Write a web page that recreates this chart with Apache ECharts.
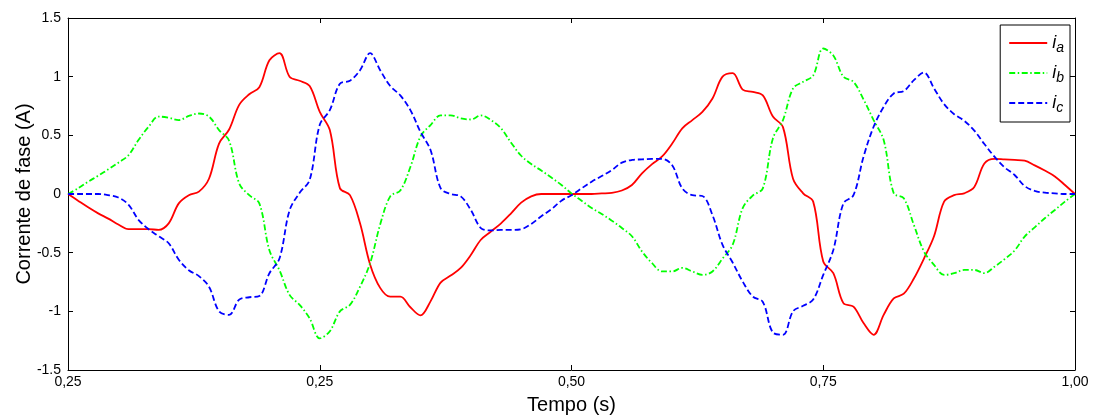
<!DOCTYPE html>
<html>
<head>
<meta charset="utf-8">
<script src="https://cdn.jsdelivr.net/npm/echarts@6/dist/echarts.min.js"></script>
<style>
html,body{margin:0;padding:0;background:#fff;}
#chart{width:1093px;height:415px;}
</style>
</head>
<body>
<div id="chart"></div>
<script>
// time sampling step (s)
const tStep = 0.01;
const xTickLabels = ['0,25', '0,25', '0,50', '0,75', '1,00'];
const yTickLabels = ['-1.5', '-1', '-0.5', '0', '0.5', '1', '1.5'];
const seriesNames = ['ia', 'ib', 'ic'];
const legendSub = {ia: 'a', ib: 'b', ic: 'c'};

// i_a (red, solid)
const ia = [0, -0.057, -0.113, -0.165, -0.21, -0.26, -0.30, -0.30, -0.30, -0.305,
  -0.25, -0.08, -0.01, 0.02, 0.13, 0.43, 0.55, 0.76, 0.85, 0.91,
  1.14, 1.20, 1.00, 0.965, 0.92, 0.70, 0.545, 0.05, -0.01, -0.25,
  -0.60, -0.80, -0.875, -0.875, -0.965, -1.035, -0.915, -0.755, -0.695, -0.63,
  -0.52, -0.39, -0.32, -0.25, -0.165, -0.074, -0.02, 0, 0, 0,
  0, 0, 0, 0.005, 0.01, 0.03, 0.077, 0.176, 0.255, 0.32,
  0.43, 0.56, 0.63, 0.70, 0.814, 1.0, 1.03, 0.89, 0.87, 0.84,
  0.66, 0.57, 0.13, 0.006, -0.065, -0.575, -0.675, -0.93, -0.96, -1.10,
  -1.20, -1.03, -0.89, -0.85, -0.72, -0.55, -0.36, -0.065, -0.01, 0.006,
  0.06, 0.26, 0.30, 0.295, 0.29, 0.284, 0.244, 0.2, 0.15, 0.077, 0];

// i_b (green, dash-dot)
const ib = [0, 0.048, 0.105, 0.156, 0.21, 0.267, 0.33, 0.46, 0.573, 0.66,
  0.65, 0.63, 0.665, 0.686, 0.66, 0.545, 0.454, 0.09, -0.01, -0.08,
  -0.48, -0.65, -0.86, -0.945, -1.06, -1.23, -1.17, -1.0, -0.945, -0.79,
  -0.59, -0.26, -0.02, 0.03, 0.23, 0.49, 0.587, 0.67, 0.67, 0.645,
  0.635, 0.67, 0.63, 0.56, 0.437, 0.326, 0.255, 0.2, 0.14, 0.077,
  0.005, -0.057, -0.12, -0.17, -0.227, -0.29, -0.36, -0.49, -0.59, -0.66,
  -0.66, -0.63, -0.66, -0.69, -0.66, -0.55, -0.434, -0.12, -0.014, 0.048,
  0.474, 0.63, 0.90, 0.956, 1.01, 1.24, 1.18, 1.0, 0.956, 0.806,
  0.63, 0.46, 0.006, -0.037, -0.264, -0.49, -0.604, -0.69, -0.675, -0.647,
  -0.647, -0.675, -0.62, -0.556, -0.482, -0.363, -0.284, -0.207, -0.136, -0.065, 0];

// i_c (blue, dashed)
const ic = [0, 0, 0, 0, -0.01, -0.03, -0.09, -0.22, -0.30, -0.36,
  -0.42, -0.56, -0.65, -0.70, -0.79, -1.0, -1.03, -0.90, -0.88, -0.87,
  -0.675, -0.55, -0.14, 0.01, 0.12, 0.59, 0.715, 0.94, 0.965, 1.055,
  1.20, 1.055, 0.92, 0.84, 0.715, 0.53, 0.375, 0.05, 0, -0.02,
  -0.136, -0.29, -0.31, -0.306, -0.306, -0.30, -0.255, -0.19, -0.13, -0.057,
  -0.01, 0.048, 0.105, 0.153, 0.204, 0.267, 0.29, 0.295, 0.30, 0.30,
  0.245, 0.048, -0.01, -0.017, -0.18, -0.434, -0.584, -0.746, -0.874, -0.92,
  -1.18, -1.20, -1.0, -0.953, -0.90, -0.69, -0.477, -0.08, -0.01, 0.318,
  0.573, 0.743, 0.857, 0.877, 0.97, 1.035, 0.90, 0.766, 0.68, 0.624,
  0.54, 0.426, 0.318, 0.227, 0.162, 0.068, 0.026, 0.011, 0.006, 0, 0];

function pairs(vals) {
  return vals.map((v, k) => [+(k * tStep).toFixed(4), v]);
}

const FONT = '"Liberation Sans", Arial, Helvetica, sans-serif';
const chart = echarts.init(document.getElementById('chart'), null, {renderer: 'canvas'});

function axisCommon() {
  return {
    axisLine: {show: true, onZero: false, lineStyle: {color: '#000', width: 1}},
    axisTick: {show: true, inside: true, length: 5, lineStyle: {color: '#000', width: 1}},
    splitLine: {show: false}
  };
}

chart.setOption({
  animation: false,
  backgroundColor: '#fff',
  grid: {left: 68, right: 18, top: 18, bottom: 45, containLabel: false, outerBoundsMode: 'none', show: false},
  legend: {
    orient: 'vertical', right: 23, top: 25,
    data: seriesNames,
    backgroundColor: '#fff',
    borderColor: '#000', borderWidth: 1, borderRadius: 0,
    padding: [9, 6, 7, 8],
    itemWidth: 38, itemHeight: 12, itemGap: 9,
    itemStyle: {opacity: 0},
    formatter: function (name) { return '{i|i}{s|' + legendSub[name] + '}'; },
    textStyle: {
      fontFamily: FONT, color: '#000',
      rich: {
        i: {fontSize: 18, fontStyle: 'italic', fontFamily: FONT, color: '#000'},
        s: {fontSize: 14, fontStyle: 'italic', fontFamily: FONT, color: '#000', padding: [10, 0, 0, 0]}
      }
    }
  },
  xAxis: [
    Object.assign({
      type: 'value', min: 0, max: 1, interval: 0.25, position: 'bottom',
      name: 'Tempo (s)', nameLocation: 'middle', nameGap: 25,
      nameTextStyle: {fontFamily: FONT, fontSize: 20, color: '#000'},
      axisLabel: {
        fontFamily: FONT, fontSize: 14, color: '#000', margin: 5,
        formatter: function (v) { return xTickLabels[Math.round(v / 0.25)]; }
      }
    }, axisCommon()),
    Object.assign({
      type: 'value', min: 0, max: 1, interval: 0.25, position: 'top',
      axisLabel: {show: false}
    }, axisCommon())
  ],
  yAxis: [
    Object.assign({
      type: 'value', min: -1.5, max: 1.5, interval: 0.5, position: 'left',
      name: 'Corrente de fase (A)', nameLocation: 'middle', nameGap: 34,
      nameMoveOverlap: false,
      nameTextStyle: {fontFamily: FONT, fontSize: 20, color: '#000'},
      axisLabel: {
        fontFamily: FONT, fontSize: 14, color: '#000', margin: 7,
        formatter: function (v) { return yTickLabels[Math.round((v + 1.5) / 0.5)]; }
      }
    }, axisCommon()),
    Object.assign({
      type: 'value', min: -1.5, max: 1.5, interval: 0.5, position: 'right',
      axisLabel: {show: false}
    }, axisCommon())
  ],
  series: [
    {name: 'ia', type: 'line', data: pairs(ia), symbol: 'none', smooth: 0.35,
      lineStyle: {color: '#ff0000', width: 1.8, type: 'solid'}, itemStyle: {color: '#ff0000'}},
    {name: 'ib', type: 'line', data: pairs(ib), symbol: 'none', smooth: 0.35,
      lineStyle: {color: '#00ff00', width: 1.8, type: [6, 2.5, 1.5, 2.5]}, itemStyle: {color: '#00ff00'}},
    {name: 'ic', type: 'line', data: pairs(ic), symbol: 'none', smooth: 0.35,
      lineStyle: {color: '#0000ff', width: 1.8, type: [6, 3]}, itemStyle: {color: '#0000ff'}}
  ]
});
</script>
</body>
</html>
